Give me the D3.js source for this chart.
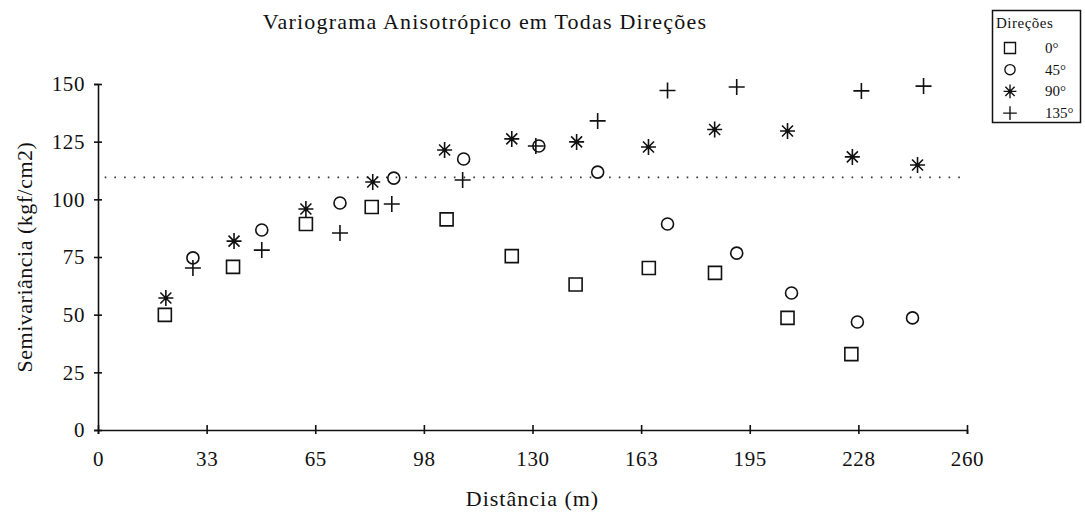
<!DOCTYPE html>
<html>
<head>
<meta charset="utf-8">
<script src="https://cdn.jsdelivr.net/npm/d3@7"></script>
<style>
body{margin:0;background:#fff;}
text{font-family:"Liberation Serif","Times New Roman",serif;fill:#111;}
</style>
</head>
<body>
<div id="chart"></div>
<script>
//x ticks (labels are rounded in the original)
var xTicks=[0,32.5,65,97.5,130,162.5,195,227.5,260];
var xTickLabels=["0","33","65","98","130","163","195","228","260"];
var yTicks=[0,25,50,75,100,125,150];

//sill (dotted line)
var sill=109.5;

//direction 0
var dist0=[20.0,40.4,62.2,81.9,104.3,123.8,142.9,164.8,184.6,206.3,225.4];
var semi0=[49.9,70.7,89.3,96.7,91.3,75.4,63.1,70.2,68.1,48.6,32.9];
//direction 45
var dist45=[28.4,49.0,72.4,88.5,109.4,131.9,149.5,170.4,191.1,207.5,227.2,243.7];
var semi45=[74.6,86.7,98.4,109.2,117.5,123.1,111.8,89.3,76.7,59.4,46.8,48.6];
//direction 90
var dist90=[20.3,40.7,62.2,82.2,103.7,123.8,143.2,164.7,184.5,206.3,225.7,245.2];
var semi90=[57.2,81.9,95.8,107.5,121.4,126.2,124.9,122.7,130.3,129.6,118.4,114.9];
//direction 135
var dist135=[28.4,49.0,72.4,87.9,109.1,131.0,149.5,170.4,191.1,228.4,247.0];
var semi135=[70.2,78.0,85.4,98.0,108.4,123.1,134.0,147.2,148.7,147.0,149.1];

var dirLabels=["0°","45°","90°","135°"];
var dirShapes=["square","circle","star","plus"];

//set size
var svgWidth=1085;
var svgHeight=521;

var margin={top:84,right:118,bottom:91,left:98};
var width=svgWidth-margin.left-margin.right;
var height=svgHeight-margin.top-margin.bottom;

var svg=d3.select("#chart")
    .append("svg")
    .attr("width",svgWidth)
    .attr("height",svgHeight);

var chartGroup=svg.append("g")
    .attr("transform",`translate(${margin.left},${margin.top})`);

var xLinearScale=d3.scaleLinear().domain([0,260]).range([0,width]);
var yLinearScale=d3.scaleLinear().domain([0,150]).range([height,0]);

//marker paths
function markerPath(shape){
    if (shape==="square") return "M-6.5,-6.5h13v13h-13Z";
    if (shape==="circle") return "M6,0A6,6 0 1,1 -6,0A6,6 0 1,1 6,0Z";
    if (shape==="plus") return "M-8,0H8M0,-8V8";
    //star
    return "M0,-8V8M-7.5,0H7.5M-5.5,-5.5L5.5,5.5M-5.5,5.5L5.5,-5.5";
}

function drawMarker(g,shape){
    g.append("path")
        .attr("d",markerPath(shape))
        .attr("fill","none")
        .attr("stroke","#111")
        .attr("stroke-width",1.6);
    if (shape==="star"){
        g.append("circle").attr("r",2.2).attr("fill","#111");
    }
}

//axes
var bottomAxis=d3.axisBottom(xLinearScale)
    .tickValues(xTicks)
    .tickFormat((d,i)=>xTickLabels[i])
    .tickSizeOuter(0)
    .tickSize(4)
    .tickPadding(17);
var leftAxis=d3.axisLeft(yLinearScale)
    .tickValues(yTicks)
    .tickSizeOuter(0)
    .tickSize(4)
    .tickPadding(9);

var xAxis=chartGroup.append("g")
    .attr("transform",`translate(0,${height})`)
    .call(bottomAxis);
xAxis.selectAll(".tick line").attr("y1",-5).attr("y2",4);

var yAxis=chartGroup.append("g")
    .call(leftAxis);
yAxis.selectAll(".tick line").attr("x1",-4).attr("x2",4);

chartGroup.selectAll(".domain,.tick line")
    .attr("stroke","#111")
    .attr("stroke-width",1.6);
chartGroup.selectAll(".tick text")
    .style("font-family","'Liberation Serif',serif")
    .style("font-size","21px")
    .style("letter-spacing","0.6px")
    .attr("fill","#111");

//dotted sill line
chartGroup.append("line")
    .attr("x1",xLinearScale(2))
    .attr("x2",xLinearScale(260))
    .attr("y1",yLinearScale(sill))
    .attr("y2",yLinearScale(sill))
    .attr("stroke","#333")
    .attr("stroke-width",1.6)
    .attr("stroke-dasharray","1.6,8.1");

//points
var series=[[dist0,semi0],[dist45,semi45],[dist90,semi90],[dist135,semi135]];
series.forEach(function(s,k){
    var pts=s[0].map((d,i)=>({x:d,y:s[1][i]}));
    chartGroup.selectAll(null)
        .data(pts)
        .enter()
        .append("g")
        .attr("transform",d=>`translate(${xLinearScale(d.x)},${yLinearScale(d.y)})`)
        .each(function(){drawMarker(d3.select(this),dirShapes[k]);});
});

//title
svg.append("text")
    .attr("x",485)
    .attr("y",29)
    .attr("text-anchor","middle")
    .style("font-size","22px")
    .style("letter-spacing","1.2px")
    .text("Variograma Anisotrópico em Todas Direções");

//axis labels
svg.append("text")
    .attr("x",margin.left+width/2)
    .attr("y",506)
    .attr("text-anchor","middle")
    .style("font-size","22px")
    .style("letter-spacing","1px")
    .text("Distância (m)");

svg.append("text")
    .attr("transform","translate(32,257) rotate(-90)")
    .attr("text-anchor","middle")
    .style("font-size","22px")
    .style("letter-spacing","0.5px")
    .text("Semivariância (kgf/cm2)");

//legend
var legend=svg.append("g");
legend.append("text")
    .attr("x",996)
    .attr("y",28)
    .style("font-size","15px")
    .style("letter-spacing","0.5px")
    .text("Direções");
dirLabels.forEach(function(lbl,i){
    var cy=48+i*21.7;
    var g=legend.append("g").attr("transform",`translate(1010,${cy}) scale(0.85)`);
    drawMarker(g,dirShapes[i]);
    legend.append("text")
        .attr("x",1045)
        .attr("y",cy+5)
        .style("font-size","15px")
        .text(lbl);
});
legend.append("rect")
    .attr("x",992.5)
    .attr("y",10.5)
    .attr("width",88)
    .attr("height",112)
    .attr("fill","none")
    .attr("stroke","#111")
    .attr("stroke-width",1.5);
</script>
</body>
</html>
